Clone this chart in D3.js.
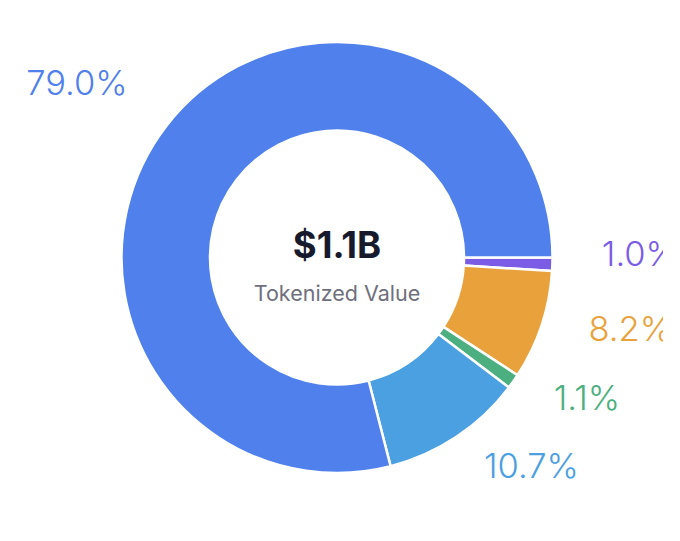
<!DOCTYPE html>
<html>
<head>
<meta charset="utf-8">
<script src="https://cdn.jsdelivr.net/npm/d3@7"></script>
<style>
  body { margin: 0; background: #fff; }
  #chart { width: 680px; height: 541px; }
  svg { overflow: hidden; display: block; }
</style>
</head>
<body>
<div id="chart"></div>
<script>
// slice data, clockwise from 3 o'clock
const categories = ['Purple', 'Orange', 'Green', 'Light Blue', 'Blue'];
const shares = [1.0, 8.2, 1.1, 10.7, 79.0];
const colors = ['#7b5ce5', '#e9a23b', '#4caf80', '#4ba0e2', '#4f80ec'];
const totalLabel = '$1.1B';
const subLabel = 'Tokenized Value';

const width = 663, height = 541;
const cx = 337, cy = 257.5;
const outerR = 215.5, innerR = 127, labelR = 265;

const svg = d3.select('#chart').append('svg')
  .attr('width', width)
  .attr('height', height);

const g = svg.append('g').attr('transform', `translate(${cx},${cy})`);

const data = categories.map((c, i) => ({ name: c, value: shares[i], color: colors[i] }));

const pie = d3.pie()
  .sort(null)
  .value(d => d.value)
  .startAngle(Math.PI / 2)
  .endAngle(Math.PI / 2 + 2 * Math.PI);

const arc = d3.arc().innerRadius(innerR).outerRadius(outerR);
const labelArc = d3.arc().innerRadius(labelR).outerRadius(labelR);

const arcs = pie(data);

g.selectAll('path.slice')
  .data(arcs)
  .enter().append('path')
  .attr('class', 'slice')
  .attr('d', arc)
  .attr('fill', d => d.data.color)
  .attr('stroke', '#fff')
  .attr('stroke-width', 2.5)
  .attr('stroke-linejoin', 'round');

// percentage labels around the ring
g.selectAll('text.pct')
  .data(arcs)
  .enter().append('text')
  .attr('class', 'pct')
  .attr('x', d => labelArc.centroid(d)[0])
  .attr('y', d => labelArc.centroid(d)[1])
  .attr('text-anchor', d => ((d.startAngle + d.endAngle) / 2 % (2 * Math.PI)) > Math.PI ? 'end' : 'start')
  .attr('fill', d => d.data.color)
  .style('font-family', 'Inter, "Noto Sans", sans-serif')
  .style('font-weight', 300)
  .style('font-size', '34.5px')
  .text(d => d.data.value.toFixed(1) + '%');

// center text
g.append('text')
  .attr('x', 0)
  .attr('y', 0)
  .attr('text-anchor', 'middle')
  .attr('fill', '#161a2c')
  .style('font-family', 'Inter, "Noto Sans", sans-serif')
  .style('font-weight', 700)
  .style('font-size', '36.5px')
  .text(totalLabel);

g.append('text')
  .attr('x', 0)
  .attr('y', 43)
  .attr('text-anchor', 'middle')
  .attr('fill', '#6f6f7d')
  .style('font-family', 'Inter, "Noto Sans", sans-serif')
  .style('font-weight', 400)
  .style('font-size', '21.5px')
  .text(subLabel);
</script>
</body>
</html>
